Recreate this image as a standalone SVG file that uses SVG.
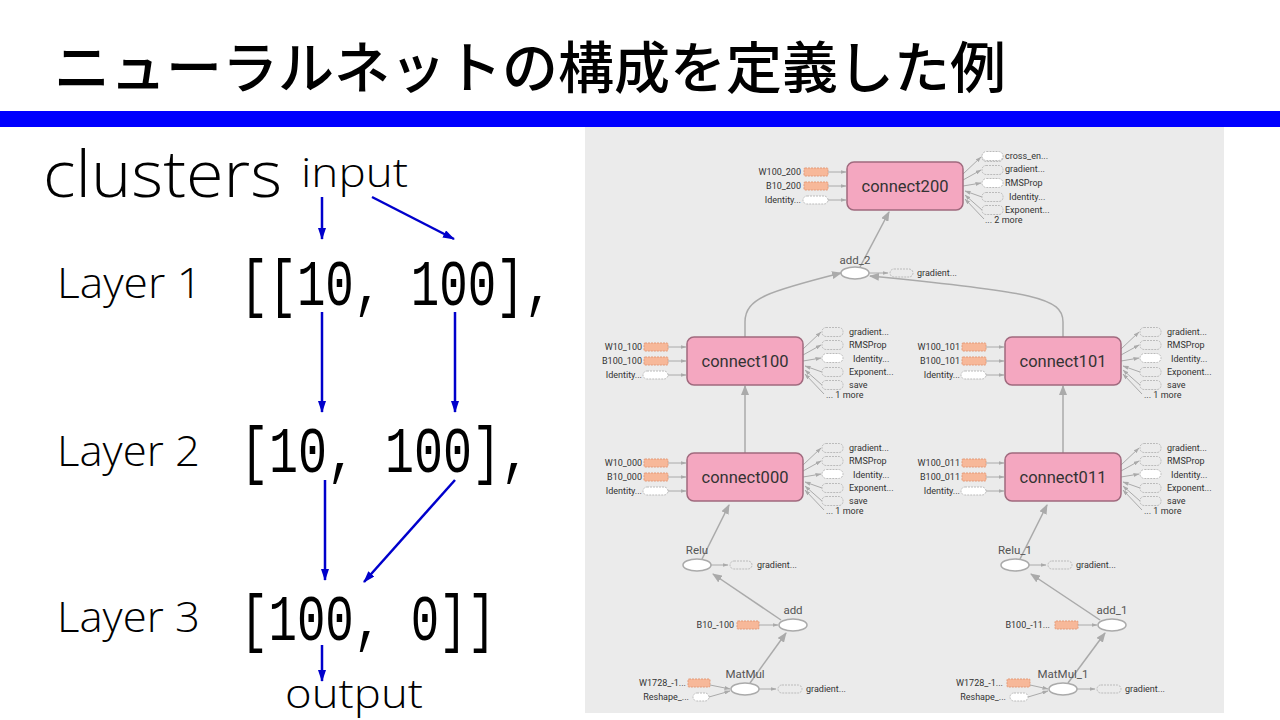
<svg xmlns="http://www.w3.org/2000/svg" width="1280" height="720" viewBox="0 0 1280 720">
<defs>
<style>
.ttl{font-family:"Noto Sans CJK JP","Noto Sans",sans-serif;font-size:56px;font-weight:500;fill:#000}
.lt{font-family:"Open Sans","Liberation Sans",Arial,sans-serif;font-weight:300;fill:#000}
.mono{font-family:"Liberation Mono","DejaVu Sans Mono",monospace;font-size:47.5px;fill:#000}
.bl{stroke:#0000cc;stroke-width:2.5;fill:none;marker-end:url(#ba)}
.ed{stroke:#aaa;stroke-width:1.5;fill:none;marker-end:url(#ga)}
.sm{stroke:#aaa;stroke-width:1;fill:none;marker-end:url(#gs)}
.box{fill:#f4a7c0;stroke:#a06a7e;stroke-width:1.5}
.op{fill:#fff;stroke:#aaa;stroke-width:1.5}
.or{fill:#f7b899;stroke:#e39a78;stroke-width:1;stroke-dasharray:2 1}
.dw{fill:#fff;stroke:#bbb;stroke-width:1;stroke-dasharray:2 1}
.dt{fill:none;stroke:#bbb;stroke-width:1;stroke-dasharray:2 1}
.t{font-family:Roboto,"Liberation Sans",sans-serif;font-size:9px;fill:#333}
.tn{font-family:Roboto,"Liberation Sans",sans-serif;font-size:16.5px;fill:#333;text-anchor:middle}
.to{font-family:Roboto,"Liberation Sans",sans-serif;font-size:11.5px;fill:#555;text-anchor:middle}
.e{text-anchor:end}
</style>
<marker id="ba" viewBox="0 0 12 8" refX="11" refY="4" markerWidth="12" markerHeight="8" markerUnits="userSpaceOnUse" orient="auto"><path d="M0,0 L12,4 L0,8 Z" fill="#0000cc"/></marker>
<marker id="ga" viewBox="0 0 10 8" refX="9" refY="4" markerWidth="10" markerHeight="8" markerUnits="userSpaceOnUse" orient="auto"><path d="M0,0 L10,4 L0,8 Z" fill="#aaa"/></marker>
<marker id="gs" viewBox="0 0 6 4" refX="5.5" refY="2" markerWidth="6" markerHeight="4" markerUnits="userSpaceOnUse" orient="auto"><path d="M0,0 L6,2 L0,4 Z" fill="#aaa"/></marker>
<g id="outs">
<path class="sm" d="M0,-12 L18,-29"/>
<path class="sm" d="M0,-6 L18,-16"/>
<path class="sm" d="M0,0 L18,-3"/>
<path class="sm" d="M19,11 L2,5"/>
<path class="sm" d="M19,24 L2,9"/>
<path class="sm" d="M21,33 L2,13"/>
<rect class="dt" x="19" y="-33.5" width="21" height="9" rx="4"/>
<rect class="dt" x="19" y="-20.5" width="21" height="9" rx="4"/>
<rect class="dw" x="19" y="-7.5" width="21" height="9" rx="4.5"/>
<rect class="dt" x="19" y="6.5" width="21" height="9" rx="4"/>
<rect class="dt" x="19" y="19.5" width="21" height="9" rx="4"/>
</g>
<g id="ins">
<rect class="or" x="-43" y="-18" width="24" height="8" rx="1"/>
<rect class="or" x="-43" y="-4" width="24" height="8" rx="1"/>
<rect class="dw" x="-44" y="10" width="25" height="8" rx="4"/>
<path class="sm" d="M-19,-14 H-1"/>
<path class="sm" d="M-19,0 H-1"/>
<path class="sm" d="M-19,14 H-1"/>
</g>
</defs>
<rect width="1280" height="720" fill="#fff"/>
<text class="ttl" x="54" y="88">ニューラルネットの構成を定義した例</text>
<rect x="0" y="111" width="1280" height="16" fill="#0000ff"/>

<g id="left">
<text class="lt" x="43" y="197" font-size="64" textLength="239" lengthAdjust="spacingAndGlyphs">clusters</text>
<text class="lt" x="301" y="187" font-size="40" textLength="107" lengthAdjust="spacingAndGlyphs">input</text>
<text class="lt" x="57" y="298" font-size="42" textLength="145" lengthAdjust="spacingAndGlyphs">Layer 1</text>
<text class="lt" x="57" y="466" font-size="42" textLength="143" lengthAdjust="spacingAndGlyphs">Layer 2</text>
<text class="lt" x="57" y="632" font-size="42" textLength="143" lengthAdjust="spacingAndGlyphs">Layer 3</text>
<text class="lt" x="285" y="708" font-size="40" textLength="138" lengthAdjust="spacingAndGlyphs">output</text>
<text class="mono" transform="translate(240,305) scale(1,1.35)" x="0" y="0" textLength="313" lengthAdjust="spacingAndGlyphs">[[10, 100],</text>
<text class="mono" transform="translate(240,472) scale(1,1.35)" x="0" y="0" textLength="290" lengthAdjust="spacingAndGlyphs">[10, 100],</text>
<text class="mono" transform="translate(240,640) scale(1,1.35)" x="0" y="0" textLength="256" lengthAdjust="spacingAndGlyphs">[100, 0]]</text>
</g>
<g id="left-arrows">
<path class="bl" d="M322,197 V239"/>
<path class="bl" d="M372,197 L454,239"/>
<path class="bl" d="M322,312 V412"/>
<path class="bl" d="M455,312 V412"/>
<path class="bl" d="M325,480 V580"/>
<path class="bl" d="M455,480 L364,582"/>
<path class="bl" d="M322,645 V681"/>
</g>

<rect id="panel" x="585" y="127" width="639" height="586" fill="#ebebeb"/>

<g id="connectors">
<path class="ed" d="M860,267 L889,212"/>
<path class="ed" d="M745,337 V322 C745,298 770,291 841,273"/>
<path class="ed" d="M1063,337 V322 C1063,298 1035,292 870,276"/>
<path class="ed" d="M745,453 V386"/>
<path class="ed" d="M1063,453 V386"/>
<path class="ed" d="M702,559 L729,505"/>
<path class="ed" d="M1020,559 L1047,505"/>
<path class="ed" d="M781,620 L713,574"/>
<path class="ed" d="M1100,620 L1031,574"/>
<path class="ed" d="M750,683 L786,633"/>
<path class="ed" d="M1068,683 L1105,633"/>
</g>

<g id="connect200">
<use href="#ins" x="847" y="186"/>
<use href="#outs" x="963" y="186"/>
<rect class="dw" x="982" y="151.5" width="21" height="9" rx="4.5"/>
<rect class="box" x="847" y="162" width="116" height="48" rx="7"/>
<text class="tn" x="905" y="192">connect200</text>
<text class="t e" x="801" y="175">W100_200</text>
<text class="t e" x="801" y="189">B10_200</text>
<text class="t e" x="801" y="203">Identity...</text>
<text class="t" x="1005" y="159">cross_en...</text>
<text class="t" x="1005" y="172">gradient...</text>
<text class="t" x="1005" y="186">RMSProp</text>
<text class="t" x="1009" y="200">Identity...</text>
<text class="t" x="1005" y="213">Exponent...</text>
<text class="t" x="985" y="223">... 2 more</text>
</g>

<g id="connect100">
<use href="#ins" x="687" y="361"/>
<use href="#outs" x="803" y="361"/>
<rect class="box" x="687" y="337" width="116" height="48" rx="7"/>
<text class="tn" x="745" y="367">connect100</text>
<text class="t e" x="642" y="350">W10_100</text>
<text class="t e" x="642" y="364">B100_100</text>
<text class="t e" x="642" y="378">Identity...</text>
<text class="t" x="849" y="335">gradient...</text>
<text class="t" x="849" y="348">RMSProp</text>
<text class="t" x="853" y="362">Identity...</text>
<text class="t" x="849" y="375">Exponent...</text>
<text class="t" x="849" y="388">save</text>
<text class="t" x="826" y="398">... 1 more</text>
</g>

<g id="connect101">
<use href="#ins" x="1005" y="361"/>
<use href="#outs" x="1121" y="361"/>
<rect class="box" x="1005" y="337" width="116" height="48" rx="7"/>
<text class="tn" x="1063" y="367">connect101</text>
<text class="t e" x="960" y="350">W100_101</text>
<text class="t e" x="960" y="364">B100_101</text>
<text class="t e" x="960" y="378">Identity...</text>
<text class="t" x="1167" y="335">gradient...</text>
<text class="t" x="1167" y="348">RMSProp</text>
<text class="t" x="1171" y="362">Identity...</text>
<text class="t" x="1167" y="375">Exponent...</text>
<text class="t" x="1167" y="388">save</text>
<text class="t" x="1144" y="398">... 1 more</text>
</g>

<g id="connect000">
<use href="#ins" x="687" y="477"/>
<use href="#outs" x="803" y="477"/>
<rect class="box" x="687" y="453" width="116" height="48" rx="7"/>
<text class="tn" x="745" y="483">connect000</text>
<text class="t e" x="642" y="466">W10_000</text>
<text class="t e" x="642" y="480">B10_000</text>
<text class="t e" x="642" y="494">Identity...</text>
<text class="t" x="849" y="451">gradient...</text>
<text class="t" x="849" y="464">RMSProp</text>
<text class="t" x="853" y="478">Identity...</text>
<text class="t" x="849" y="491">Exponent...</text>
<text class="t" x="849" y="504">save</text>
<text class="t" x="826" y="514">... 1 more</text>
</g>

<g id="connect011">
<use href="#ins" x="1005" y="477"/>
<use href="#outs" x="1121" y="477"/>
<rect class="box" x="1005" y="453" width="116" height="48" rx="7"/>
<text class="tn" x="1063" y="483">connect011</text>
<text class="t e" x="960" y="466">W100_011</text>
<text class="t e" x="960" y="480">B100_011</text>
<text class="t e" x="960" y="494">Identity...</text>
<text class="t" x="1167" y="451">gradient...</text>
<text class="t" x="1167" y="464">RMSProp</text>
<text class="t" x="1171" y="478">Identity...</text>
<text class="t" x="1167" y="491">Exponent...</text>
<text class="t" x="1167" y="504">save</text>
<text class="t" x="1144" y="514">... 1 more</text>
</g>

<g id="add_2">
<path class="sm" d="M869,273 H888"/>
<rect class="dt" x="890" y="269" width="23" height="8" rx="4"/>
<ellipse class="op" cx="855" cy="273" rx="14" ry="6"/>
<text class="to" x="855" y="264">add_2</text>
<text class="t" x="917" y="276">gradient...</text>
</g>

<g id="Relu">
<path class="sm" d="M711,565 H728"/>
<rect class="dt" x="730" y="561" width="22" height="8" rx="4"/>
<ellipse class="op" cx="697" cy="565" rx="14" ry="6"/>
<text class="to" x="697" y="554">Relu</text>
<text class="t" x="757" y="568">gradient...</text>
</g>

<g id="add">
<rect class="or" x="737" y="621" width="22" height="8" rx="1"/>
<path class="sm" d="M759,625 H778"/>
<ellipse class="op" cx="793" cy="625" rx="14" ry="6"/>
<text class="to" x="793" y="614">add</text>
<text class="t e" x="734" y="628">B10_-100</text>
</g>

<g id="MatMul">
<rect class="or" x="688" y="679" width="22" height="8" rx="1"/>
<rect class="dw" x="693" y="693" width="16" height="8" rx="4"/>
<path class="sm" d="M710,685 L730,689"/>
<path class="sm" d="M709,697 L730,691"/>
<path class="sm" d="M759,689 H776"/>
<rect class="dt" x="778" y="685" width="24" height="8" rx="4"/>
<ellipse class="op" cx="745" cy="689" rx="14" ry="6"/>
<text class="to" x="745" y="678">MatMul</text>
<text class="t e" x="686" y="686">W1728_-1...</text>
<text class="t e" x="689" y="700">Reshape_...</text>
<text class="t" x="806" y="692">gradient...</text>
</g>

<g id="Relu_1">
<path class="sm" d="M1029,565 H1046"/>
<rect class="dt" x="1048" y="561" width="24" height="8" rx="4"/>
<ellipse class="op" cx="1015" cy="565" rx="14" ry="6"/>
<text class="to" x="1015" y="554">Relu_1</text>
<text class="t" x="1076" y="568">gradient...</text>
</g>

<g id="add_1">
<rect class="or" x="1055" y="621" width="23" height="8" rx="1"/>
<path class="sm" d="M1078,625 H1097"/>
<ellipse class="op" cx="1112" cy="625" rx="14" ry="6"/>
<text class="to" x="1112" y="614">add_1</text>
<text class="t e" x="1050" y="628">B100_-11...</text>
</g>

<g id="MatMul_1">
<rect class="or" x="1007" y="679" width="23" height="8" rx="1"/>
<rect class="dw" x="1010" y="693" width="18" height="8" rx="4"/>
<path class="sm" d="M1030,685 L1048,689"/>
<path class="sm" d="M1028,697 L1048,691"/>
<path class="sm" d="M1077,689 H1095"/>
<rect class="dt" x="1097" y="685" width="24" height="8" rx="4"/>
<ellipse class="op" cx="1063" cy="689" rx="14" ry="6"/>
<text class="to" x="1063" y="678">MatMul_1</text>
<text class="t e" x="1003" y="686">W1728_-1...</text>
<text class="t e" x="1006" y="700">Reshape_...</text>
<text class="t" x="1125" y="692">gradient...</text>
</g>
</svg>
